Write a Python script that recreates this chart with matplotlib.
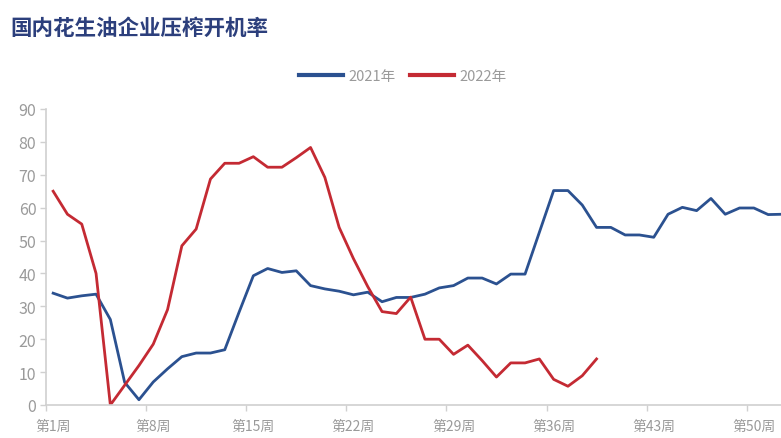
import matplotlib
matplotlib.use("Agg")
import matplotlib.pyplot as plt

plt.rcParams['font.family'] = ['Noto Sans CJK SC', 'DejaVu Sans']

weeks = list(range(1, 53))
tick_labels = ["第1周", "第8周", "第15周", "第22周", "第29周", "第36周", "第43周", "第50周"]
tick_weeks = [1, 8, 15, 22, 29, 36, 43, 50]

y2021 = [34, 32.5, 33.2, 33.7, 26, 6.9, 1.6, 7, 11, 14.7, 15.8, 15.8, 16.8, 28.2,
         39.3, 41.5, 40.3, 40.8, 36.3, 35.3, 34.6, 33.5, 34.3, 31.4, 32.7, 32.7,
         33.7, 35.6, 36.3, 38.6, 38.6, 36.8, 39.8, 39.8, 52.5, 65.2, 65.2, 60.8,
         54, 54, 51.7, 51.7, 51, 58, 60.1, 59.1, 62.8, 58, 59.9, 59.9, 57.9, 58]
y2022 = [65, 58, 55, 40, 0, 6, 12, 18.5, 29, 48.4, 53.5, 68.7, 73.5, 73.5, 75.5,
         72.3, 72.3, 75.2, 78.3, 69.2, 54, 44.5, 36, 28.4, 27.8, 32.8, 20, 20,
         15.4, 18.2, 13.5, 8.5, 12.8, 12.8, 14, 7.8, 5.7, 8.9, 14]

W, H = 781, 439
fig = plt.figure(figsize=(W / 100, H / 100), dpi=100)
left_px, right_px = 46, 46 + 52 * 14.3
bottom_px, top_px = 406, 110
ax = fig.add_axes([left_px / W, 1 - bottom_px / H, (right_px - left_px) / W, (bottom_px - top_px) / H])

blue = '#2b5190'
red = '#c42a33'
ax.plot(weeks[:len(y2021)], y2021, color=blue, lw=2.0, label='2021年', solid_joinstyle='round')
ax.plot(weeks[:len(y2022)], y2022, color=red, lw=2.0, label='2022年', solid_joinstyle='round')

ax.set_xlim(0.5, 52.5)
ax.set_ylim(0, 90)

for s in ['top', 'right']:
    ax.spines[s].set_visible(False)
for s in ['left', 'bottom']:
    ax.spines[s].set_color('#d0d0d0')
    ax.spines[s].set_linewidth(1.2)

ax.set_yticks(range(0, 91, 10))
ax.tick_params(axis='y', colors='#d0d0d0', labelcolor='#9a9a9a', labelsize=11.5, length=4, width=1, pad=3)

ax.set_xticks(tick_weeks)
ax.set_xticklabels(tick_labels)
ax.tick_params(axis='x', which='major', length=0, labelcolor='#9a9a9a', labelsize=10, pad=10)
ax.set_xticks([w - 0.5 for w in tick_weeks], minor=True)
ax.tick_params(axis='x', which='minor', length=4, width=1, colors='#d0d0d0')

fig.text(10 / W, 1 - 28 / H, '国内花生油企业压榨开机率', fontsize=15.5, fontweight='bold',
         color='#2c3f7c', va='center', ha='left')

leg = ax.legend(loc='center', bbox_to_anchor=(403 / W, 1 - 77 / H), bbox_transform=fig.transFigure,
                ncol=2, frameon=False, fontsize=10.5, handlelength=3.0, handletextpad=0.4,
                columnspacing=1.0, labelcolor='#9a9a9a')
for line in leg.get_lines():
    line.set_linewidth(3)

fig.savefig('out.png', dpi=100)
